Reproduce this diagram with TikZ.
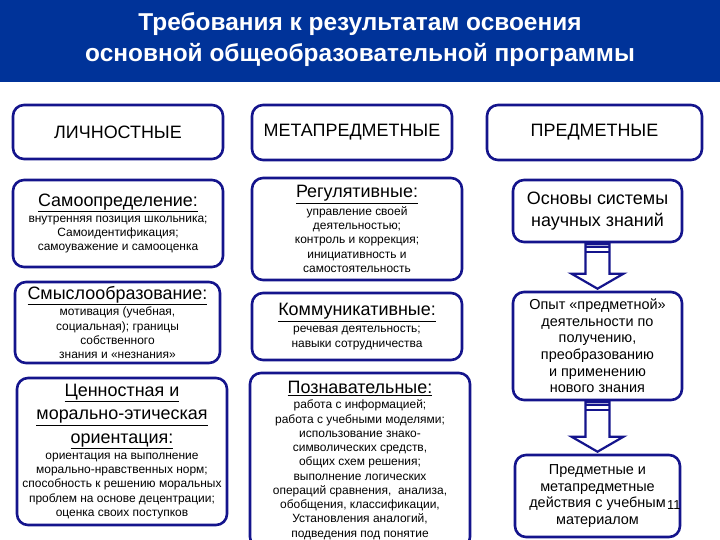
\documentclass[tikz,border=0pt]{standalone}
\usepackage{fontspec}
\setmainfont{Liberation Sans}
\usetikzlibrary{calc}
\definecolor{reqBlue}{HTML}{003399}
\definecolor{reqFrame}{HTML}{14148C}
\newcommand{\reqtitle}{\fontsize{24.5}{31}\selectfont}
\newcommand{\reqcol}{\fontsize{18}{20}\selectfont}
\newcommand{\reqhead}{\fontsize{18}{20}\selectfont}
\newcommand{\reqmid}{\fontsize{14.5}{16.7}\selectfont}
\newcommand{\reqsmall}{\fontsize{12}{14.3}\selectfont}
\newcommand{\requl}[1]{{\reqhead\underline{#1}}}
\tikzset{
  reqbox/.style={draw=reqFrame, line width=2.6bp, rounded corners=11bp,
    fill=white, align=center, inner sep=0pt, text=black},
  reqarrow/.style={draw=reqFrame, line width=2.2bp, fill=white, line join=miter},
}
% block arrow from the bottom of one box to the top of the next
\newcommand{\reqdown}[2]{%
  \draw[reqarrow]
    ($(#1.south)+(-12,1)$) -- ($(#2.north)+(-12,-17)$) -- ($(#2.north)+(-26,-17)$)
    -- ($(#2.north)+(0,-2)$) -- ($(#2.north)+(26,-17)$) -- ($(#2.north)+(12,-17)$)
    -- ($(#1.south)+(12,1)$) -- cycle;
  \draw[reqFrame, line width=2bp] ($(#1.south)+(-12,4)$) -- ($(#1.south)+(12,4)$);
  \draw[reqFrame, line width=2bp] ($(#1.south)+(-12,8.5)$) -- ($(#1.south)+(12,8.5)$);
}

\begin{document}
\begin{tikzpicture}[x=1bp, y=-1bp]
  \useasboundingbox (0,0) rectangle (720,540);
  \fill[white] (0,0) rectangle (720,540);

  % ---- Title bar ----
  \fill[reqBlue] (0,0) rectangle (720,82);
  \node[font=\reqtitle\bfseries, text=white, align=center] (title) at (360,40)
    {Требования к результатам освоения\\ основной общеобразовательной программы};

  % ---- Column headers ----
  \node[reqbox, font=\reqcol, minimum width=210bp, minimum height=54bp]
    (lich) at (118,132) {ЛИЧНОСТНЫЕ};
  \node[reqbox, font=\reqcol, minimum width=200bp, minimum height=55bp]
    (meta) at (352,132.5) {МЕТАПРЕДМЕТНЫЕ};
  \node[reqbox, font=\reqcol, minimum width=215bp, minimum height=55bp]
    (pred) at (594.5,132.5) {ПРЕДМЕТНЫЕ};

  % ---- Personal results ----
  \node[reqbox, font=\reqsmall, minimum width=210bp, minimum height=87bp]
    (samo) at (118,223.5)
    {\requl{Самоопределение:}\\[2bp]
     внутренняя позиция школьника;\\
     Самоидентификация;\\
     самоуважение и самооценка};
  \node[reqbox, font=\reqsmall, minimum width=205bp, minimum height=81bp]
    (smysl) at (117.5,322.5)
    {\requl{Смыслообразование:}\\[1bp]
     мотивация (учебная,\\
     социальная); границы\\
     собственного\\
     знания и «незнания»};
  \node[reqbox, font=\reqsmall, minimum width=210bp, minimum height=147bp]
    (cenn) at (122,451.5)
    {\requl{Ценностная и}\\[7bp]
     \requl{морально-этическая}\\[7bp]
     \requl{ориентация:}\\[2bp]
     ориентация на выполнение\\
     морально-нравственных норм;\\
     способность к решению моральных\\
     проблем на основе децентрации;\\
     оценка своих поступков};

  % ---- Meta-subject results ----
  \node[reqbox, font=\reqsmall, minimum width=210bp, minimum height=102bp]
    (reg) at (357,229)
    {\requl{Регулятивные:}\\[2bp]
     управление своей\\
     деятельностью;\\
     контроль и коррекция;\\
     инициативность и\\
     самостоятельность};
  \node[reqbox, font=\reqsmall, minimum width=210bp, minimum height=67bp]
    (komm) at (357,326.5)
    {\requl{Коммуникативные:}\\[3bp]
     речевая деятельность;\\
     навыки сотрудничества};
  \node[reqbox, font=\reqsmall, minimum width=220bp, minimum height=175bp]
    (pozn) at (360,460.5)
    {\requl{Познавательные:}\\[1bp]
     работа с информацией;\\
     работа с учебными моделями;\\
     использование знако-\\
     символических средств,\\
     общих схем решения;\\
     выполнение логических\\
     операций сравнения,~ анализа,\\
     обобщения, классификации,\\
     Установления аналогий,\\
     подведения под понятие};

  % ---- Subject results ----
  \node[reqbox, font=\fontsize{18}{22}\selectfont, minimum width=169bp, minimum height=62bp]
    (osn) at (597.5,211) {Основы системы\\ научных знаний};
  \node[reqbox, font=\reqmid, minimum width=169bp, minimum height=108bp]
    (opyt) at (597.5,346)
    {Опыт «предметной»\\ деятельности по\\ получению,\\ преобразованию\\
     и применению\\ нового знания};
  \node[reqbox, font=\reqmid, minimum width=165bp, minimum height=82bp]
    (pmeta) at (597.5,496)
    {Предметные и\\ метапредметные\\ действия с учебным\\ материалом};

  % Arrows between subject boxes
  \reqdown{osn}{opyt}
  \reqdown{opyt}{pmeta}

  % Slide number
  \node[font=\fontsize{13}{15}\selectfont, inner sep=0pt, anchor=west] (pnum) at (667,505) {11};
\end{tikzpicture}
\end{document}
